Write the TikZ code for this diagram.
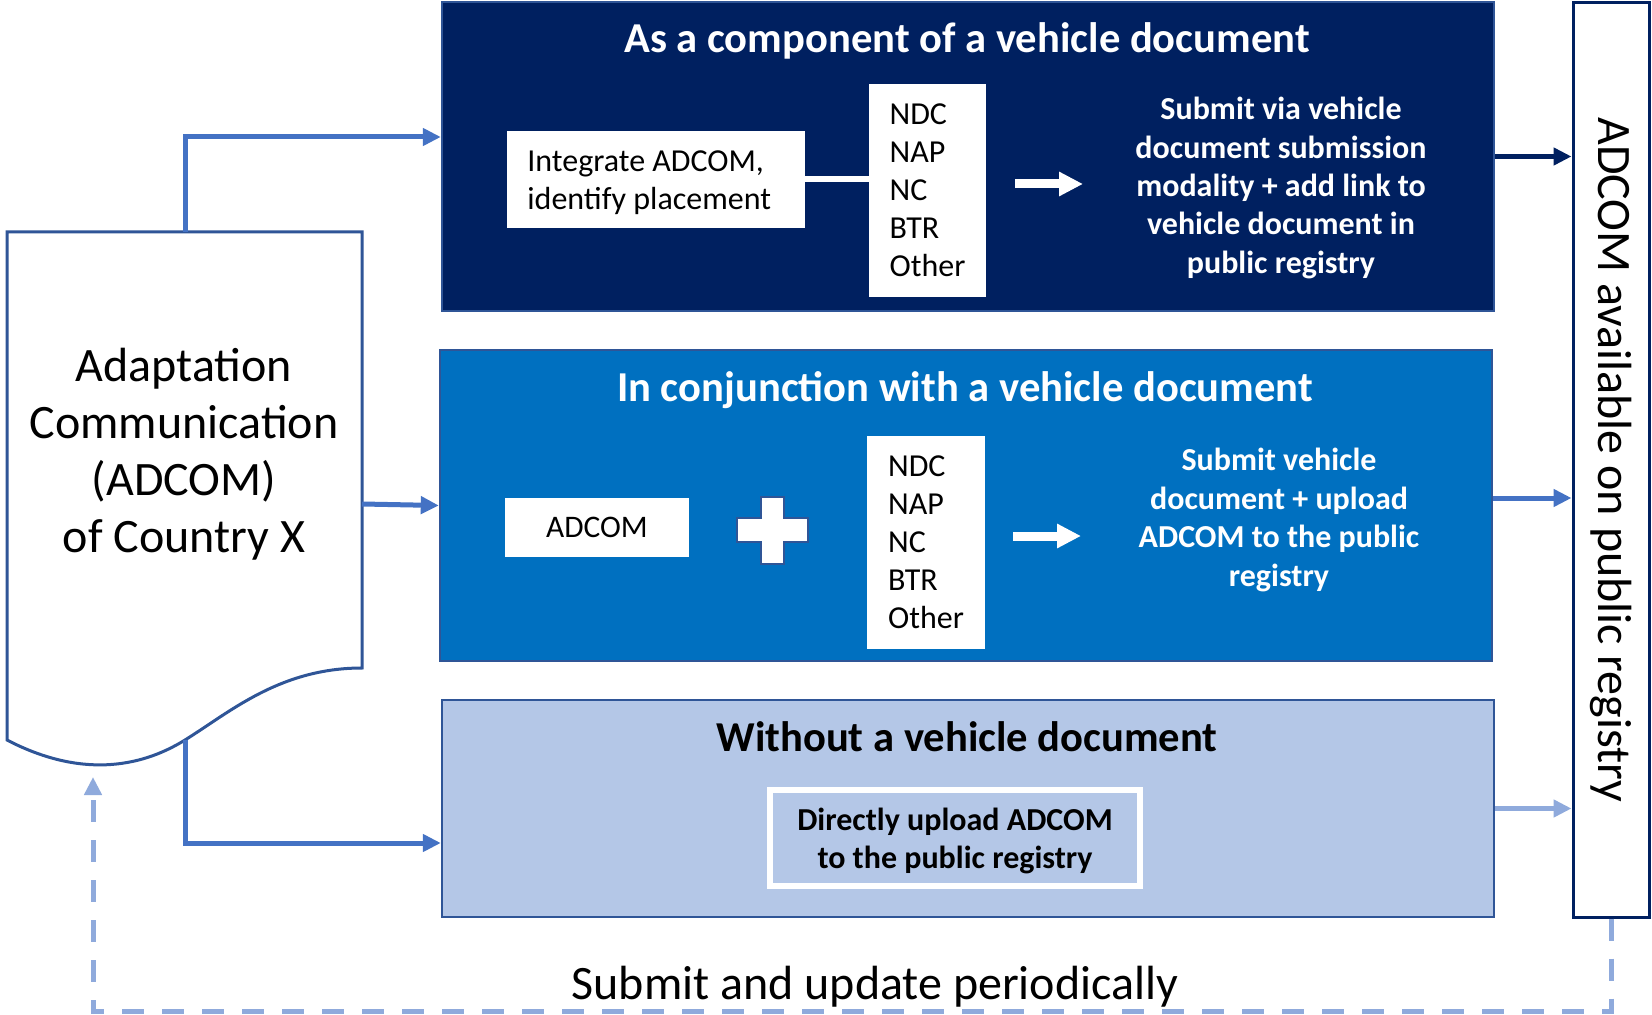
\documentclass[tikz,border=0pt]{standalone}
\usepackage{fontspec}
\setmainfont{Carlito}
\usetikzlibrary{arrows.meta}
\definecolor{navy}{HTML}{002060}
\definecolor{midblue}{HTML}{0070C0}
\definecolor{lightblue}{HTML}{B4C7E7}
\definecolor{edgeblue}{HTML}{2F5597}
\definecolor{arrowblue}{HTML}{4472C4}
\definecolor{paleblue}{HTML}{8FAADC}
\begin{document}
\begin{tikzpicture}[x=0.5pt,y=-0.5pt,
  panel/.style={draw=edgeblue, line width=1.2pt, minimum width=526pt, inner sep=0pt},
  whitebox/.style={fill=white, inner sep=0pt, align=left, font=\fontsize{15.7}{19}\selectfont},
  ttl/.style={font=\bfseries\fontsize{21.3}{25}\selectfont},
  subtxt/.style={text=white, align=center, font=\bfseries\fontsize{16}{19.2}\selectfont},
  larrow/.style={draw=arrowblue, line width=2.5pt, -{Triangle[length=9pt,width=8.5pt]}},
  warrow/.style={draw=white, line width=4.5pt, -{Triangle[length=12pt,width=11.5pt]}},
  bigtxt/.style={font=\fontsize{24}{28.5}\selectfont}
]
\useasboundingbox (0,0) rectangle (1652,1015);
\fill[white] (0,0) rectangle (1652,1015);

% panels
\node[panel, fill=navy, minimum height=154.5pt] (top) at (968,156.5) {};
\node[panel, fill=midblue, minimum height=155.5pt] (mid) at (966,505.5) {};
\node[panel, fill=lightblue, minimum height=108.5pt] (bot) at (968,808.5) {};
\node[draw=navy, line width=1.5pt, fill=white, minimum width=38pt, minimum height=457pt, inner sep=0pt] (reg) at (1611,460) {};
\node[rotate=-90, bigtxt] (regtxt) at (1611,460) {ADCOM available on public registry};

% titles
\node[ttl, text=white] (t1) at (967,41) {As a component of a vehicle document};
\node[ttl, text=white] (t2) at (965,390) {In conjunction with a vehicle document};
\node[ttl] (t3) at (967,737) {Without a vehicle document};

% top panel content
\node[fill=white, inner sep=0pt, minimum width=149pt, minimum height=48.5pt] (integ) at (656,179.5) {};
\node[anchor=west, inner sep=0pt, align=left, font=\fontsize{16}{19.2}\selectfont] (integtxt) at (527,183) {Integrate ADCOM,\\identify placement};
\node[whitebox, minimum width=58.5pt, minimum height=106.5pt, font=\fontsize{16}{19}\selectfont] (list1) at (927.5,190.5) {NDC\\NAP\\NC\\BTR\\Other};
\draw[white, line width=3pt] (integ.east) -- (integ.east -| list1.west);
\coordinate (w1s) at (1015,184);
\coordinate (w1e) at (1083,184);
\draw[warrow] (w1s) -- (w1e);
\node[subtxt] (sub1) at (1281,188) {Submit via vehicle\\document submission\\modality + add link to\\vehicle document in\\public registry};

% middle panel content
\node[whitebox, minimum width=92pt, minimum height=29.5pt, align=center] (adcom) at (597,527.5) {ADCOM};
\draw[draw=edgeblue, line width=1pt, fill=white] (761,497) -- (784,497) -- (784,518) -- (808,518) -- (808,542) -- (784,542) -- (784,564) -- (761,564) -- (761,542) -- (737,542) -- (737,518) -- (761,518) -- cycle;
\node[whitebox, minimum width=59pt, minimum height=106.5pt, font=\fontsize{16}{19}\selectfont] (list2) at (926,542.5) {NDC\\NAP\\NC\\BTR\\Other};
\coordinate (w2s) at (1013,536);
\coordinate (w2e) at (1081,536);
\draw[warrow] (w2s) -- (w2e);
\node[subtxt] (sub2) at (1279,520) {Submit vehicle\\document + upload\\ADCOM to the public\\registry};

% bottom panel content
\node[draw=white, line width=3pt, minimum width=185pt, minimum height=48pt, inner sep=0pt] (direct) at (955,838) {};
\node[align=center, font=\bfseries\fontsize{16}{19}\selectfont] (directtxt) at (955,841) {Directly upload ADCOM\\to the public registry};

% document shape
\draw[draw=edgeblue, line width=1.5pt, fill=white] (362,668) -- (362,232) -- (7,232) -- (7,740) .. controls (80,778) and (140,768) .. (185,740) .. controls (230,712) and (280,668) .. (362,668) -- cycle;
\node[bigtxt, align=center] (doc) at (184,454) {Adaptation\\Communication\\(ADCOM)\\of Country X};
\coordinate (docTop) at (185,232);
\coordinate (docRight) at (362,504);
\coordinate (docLow) at (185,740);
\coordinate (yTop) at (0,137);
\coordinate (yBot) at (0,843);
\coordinate (yMidR) at (0,498);

% connectors from document
\draw[larrow] (docTop) |- (top.west |- yTop);
\draw[larrow] (docRight) -- (mid.west);
\draw[larrow] (docLow) |- (bot.west |- yBot);

% connectors to registry
\draw[draw=navy, line width=2.5pt, -{Triangle[length=9pt,width=8.5pt]}] (top.east) -- (top.east -| reg.west);
\draw[larrow] (mid.east |- yMidR) -- (reg.west |- yMidR);
\draw[draw=paleblue, line width=2.5pt, -{Triangle[length=9pt,width=8.5pt]}] (bot.east) -- (bot.east -| reg.west);

% feedback loop
\coordinate (loopBL) at (93,1011);
\coordinate (docBottom) at (93,777);
\draw[draw=paleblue, line width=2.5pt, dash pattern=on 11pt off 9pt, -{Triangle[length=9pt,width=8.5pt]}] (reg.south) |- (loopBL) -- (docBottom);
\node[bigtxt] (loopLbl) at (875,987) {Submit and update periodically};
\end{tikzpicture}
\end{document}
